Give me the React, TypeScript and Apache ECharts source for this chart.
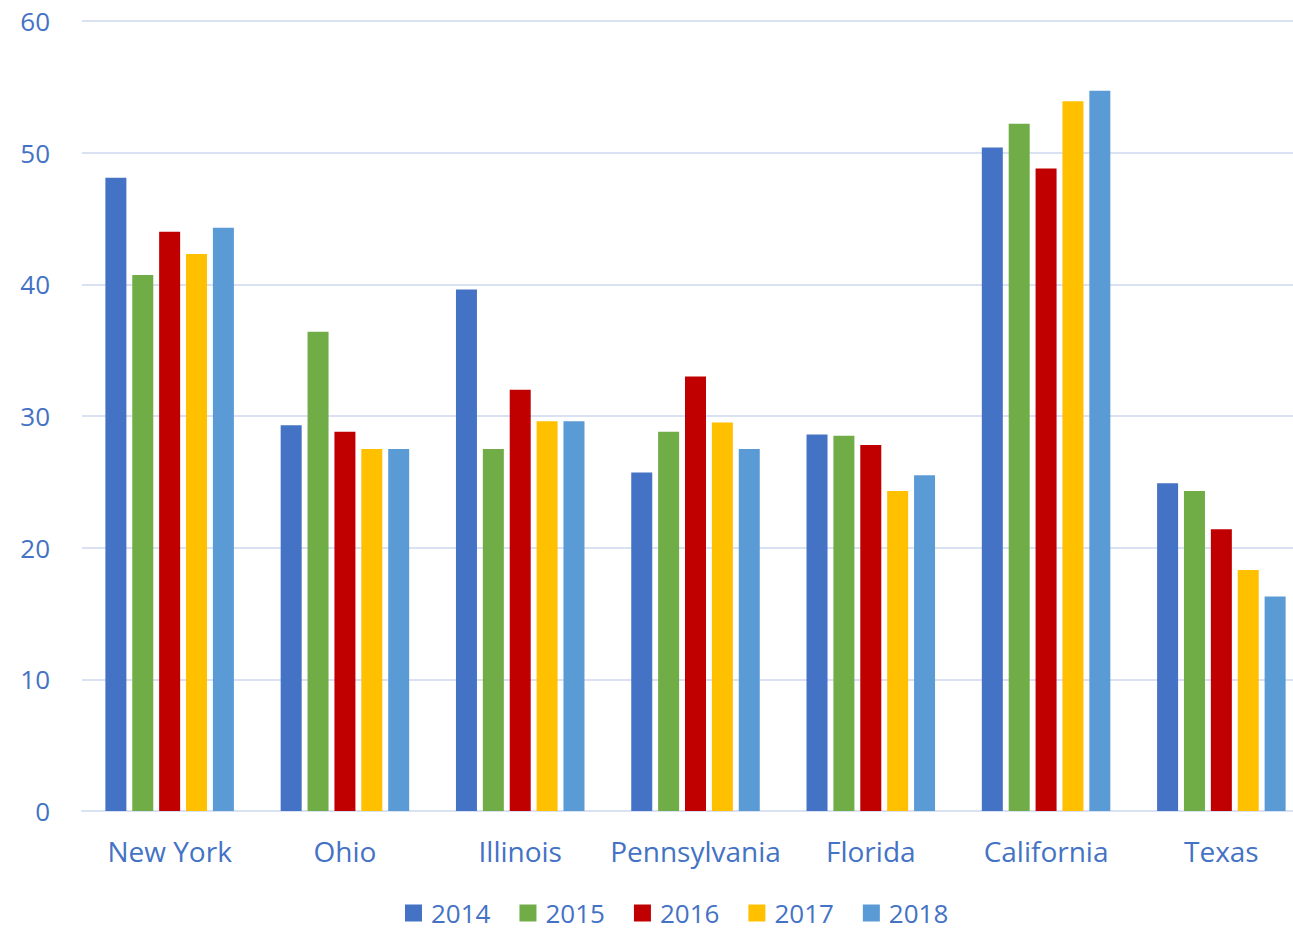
import React, { useEffect, useRef } from "react";
import * as echarts from "echarts";

const categories = ["New York", "Ohio", "Illinois", "Pennsylvania", "Florida", "California", "Texas"];
const years = ["2014", "2015", "2016", "2017", "2018"];
const colors = ["#4472C4", "#70AD47", "#C00000", "#FFC000", "#5B9BD5"];
const values2014 = [48.1, 29.3, 39.6, 25.7, 28.6, 50.4, 24.9];
const values2015 = [40.7, 36.4, 27.5, 28.8, 28.5, 52.2, 24.3];
const values2016 = [44.0, 28.8, 32.0, 33.0, 27.8, 48.8, 21.4];
const values2017 = [42.3, 27.5, 29.6, 29.5, 24.3, 53.9, 18.3];
const values2018 = [44.3, 27.5, 29.6, 27.5, 25.5, 54.7, 16.3];
const allValues = [values2014, values2015, values2016, values2017, values2018];

const textColor = "#4472C4";
const font = "'Open Sans', 'Noto Sans', sans-serif";

export default function App() {
  const ref = useRef<HTMLDivElement>(null);
  useEffect(() => {
    document.body.style.margin = "0";
    const chart = echarts.init(ref.current!, null, { renderer: "svg" });
    chart.setOption({
      animation: false,
      color: colors,
      grid: { left: 82, right: -16, top: 21, bottom: 120, containLabel: false, outerBoundsMode: "none" },
      legend: {
        bottom: 0,
        left: 400,
        itemWidth: 17,
        itemHeight: 17,
        itemGap: 29,
        icon: "rect",
        textStyle: { color: textColor, fontSize: 26, fontFamily: font, padding: [0, 0, 0, 4] },
        data: years,
      },
      xAxis: {
        type: "category",
        data: categories,
        axisTick: { show: false },
        axisLine: { lineStyle: { color: "#D9E1F2", width: 2 } },
        axisLabel: { color: textColor, fontSize: 28, fontFamily: font, margin: 26, interval: 0 },
      },
      yAxis: {
        type: "value",
        min: 0,
        max: 60,
        interval: 10,
        axisLine: { show: false },
        axisTick: { show: false },
        splitLine: { lineStyle: { color: "#D9E1F2", width: 2 } },
        axisLabel: { color: textColor, fontSize: 26, fontFamily: font, margin: 32 },
      },
      series: years.map((y, i) => ({
        name: y,
        type: "bar",
        data: allValues[i],
        barWidth: 21,
        barGap: "28%",
        itemStyle: { color: colors[i] },
      })),
    });
    return () => chart.dispose();
  }, []);
  return <div ref={ref} style={{ width: 1293, height: 931, position: "absolute", left: 0, top: 0 }} />;
}
